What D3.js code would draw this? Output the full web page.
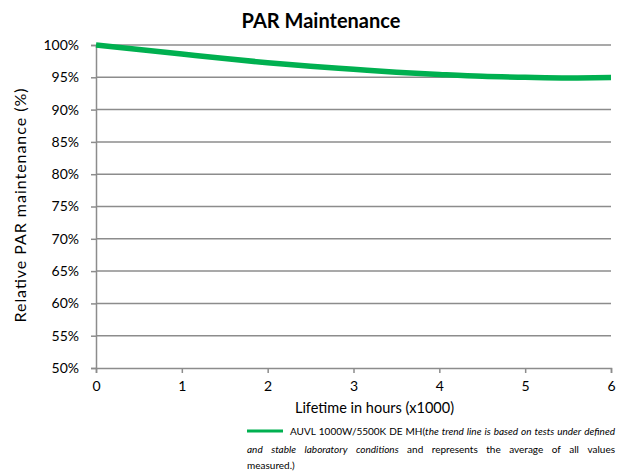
<!DOCTYPE html>
<html>
<head>
<meta charset="utf-8">
<script src="https://cdn.jsdelivr.net/npm/d3@7"></script>
<style>
  body { margin: 0; background: #fff; }
  svg text { font-family: Lato, "Liberation Sans", sans-serif; fill: #000; }
</style>
</head>
<body>
<div id="chart"></div>
<script>
// data
var hours = [0, 0.5, 1, 1.5, 2, 2.5, 3, 3.5, 4, 4.5, 5, 5.5, 6];
var par = [100, 99.3, 98.6, 97.9, 97.25, 96.7, 96.25, 95.8, 95.45, 95.15, 95.0, 94.9, 94.95];
var xTicks = [0, 1, 2, 3, 4, 5, 6];
var yTicks = [50, 55, 60, 65, 70, 75, 80, 85, 90, 95, 100];

var opts = {
    width: 640,
    height: 471,
    left: 96,
    right: 611,
    top: 45,
    bottom: 368
};

var grey = "#8c8c8c";

var svg = d3.select("#chart").append("svg")
    .attr("width", opts.width)
    .attr("height", opts.height);

var x = d3.scaleLinear().domain([0, 6]).range([opts.left, opts.right]);
var y = d3.scaleLinear().domain([50, 100]).range([opts.bottom, opts.top]);

// title
svg.append("text")
    .attr("x", 321)
    .attr("y", 28)
    .style("text-anchor", "middle")
    .style("font-size", "20px")
    .style("font-weight", "bold")
    .text("PAR Maintenance");

// horizontal gridlines
svg.append("g").selectAll("line")
    .data(yTicks.filter(function(d) { return d > 50; }))
    .enter().append("line")
    .attr("x1", opts.left)
    .attr("x2", opts.right)
    .attr("y1", function(d) { return y(d); })
    .attr("y2", function(d) { return y(d); })
    .attr("stroke", grey)
    .attr("stroke-width", 1.5);

// y axis
var yAxis = d3.axisLeft(y)
    .tickValues(yTicks)
    .tickSize(5)
    .tickPadding(12)
    .tickFormat(function(d) { return d + "%"; });

var gy = svg.append("g")
    .attr("transform", "translate(" + opts.left + ",0)")
    .call(yAxis);

// x axis
var xAxis = d3.axisBottom(x)
    .tickValues(xTicks)
    .tickSize(5)
    .tickPadding(8)
    .tickFormat(d3.format("d"));

var gx = svg.append("g")
    .attr("transform", "translate(0," + opts.bottom + ")")
    .call(xAxis);

[gx, gy].forEach(function(g) {
    g.select(".domain").attr("stroke", grey).attr("stroke-width", 1.5);
    g.selectAll(".tick line").attr("stroke", grey).attr("stroke-width", 1.5);
    g.selectAll(".tick text")
        .style("font-family", "Lato, sans-serif")
        .style("font-size", "14px")
        .attr("fill", "#000");
});

// axis titles
svg.append("text")
    .attr("x", 374.5)
    .attr("y", 413)
    .style("text-anchor", "middle")
    .style("font-size", "14.5px")
    .text("Lifetime in hours (x1000)");

svg.append("text")
    .attr("transform", "translate(26," + ((opts.top + opts.bottom) / 2 - 1) + ") rotate(-90)")
    .style("text-anchor", "middle")
    .style("font-size", "16px")
    .attr("textLength", 234)
    .attr("lengthAdjust", "spacing")
    .text("Relative PAR maintenance (%)");

// the trend line
var line = d3.line()
    .x(function(d, i) { return x(hours[i]); })
    .y(function(d) { return y(d); })
    .curve(d3.curveMonotoneX);

svg.append("path")
    .datum(par)
    .attr("fill", "none")
    .attr("stroke", "#00b050")
    .attr("stroke-width", 5.5)
    .attr("d", line);

// legend, justified like the original
var legRight = 615, legFont = 10;

svg.append("line")
    .attr("x1", 247).attr("x2", 283)
    .attr("y1", 431).attr("y2", 431)
    .attr("stroke", "#00b050")
    .attr("stroke-width", 3);

// each word is a list of [text, italic] pieces
var legendLines = [
    { y: 435, x0: 290, justify: true, words: [
        [["AUVL", false]], [["1000W/5500K", false]], [["DE", false]],
        [["MH(", false], ["the", true]], [["trend", true]], [["line", true]], [["is", true]],
        [["based", true]], [["on", true]], [["tests", true]], [["under", true]], [["defined", true]]
    ]},
    { y: 452.5, x0: 247, justify: true, words: [
        [["and", true]], [["stable", true]], [["laboratory", true]], [["conditions", true]],
        [["and", false]], [["represents", false]], [["the", false]], [["average", false]],
        [["of", false]], [["all", false]], [["values", false]]
    ]},
    { y: 469, x0: 247, justify: false, words: [[["measured.)", false]]] }
];

legendLines.forEach(function(ln) {
    var nodes = ln.words.map(function(w) {
        var t = svg.append("text")
            .attr("y", ln.y)
            .style("font-size", legFont + "px");
        w.forEach(function(p) {
            t.append("tspan")
                .style("font-style", p[1] ? "italic" : "normal")
                .text(p[0]);
        });
        return t;
    });
    var widths = nodes.map(function(t) { return t.node().getComputedTextLength(); });
    var total = d3.sum(widths);
    var gap = ln.justify && nodes.length > 1
        ? (legRight - ln.x0 - total) / (nodes.length - 1)
        : 3;
    var cx = ln.x0;
    nodes.forEach(function(t, i) {
        t.attr("x", cx);
        cx += widths[i] + gap;
    });
});
</script>
</body>
</html>
